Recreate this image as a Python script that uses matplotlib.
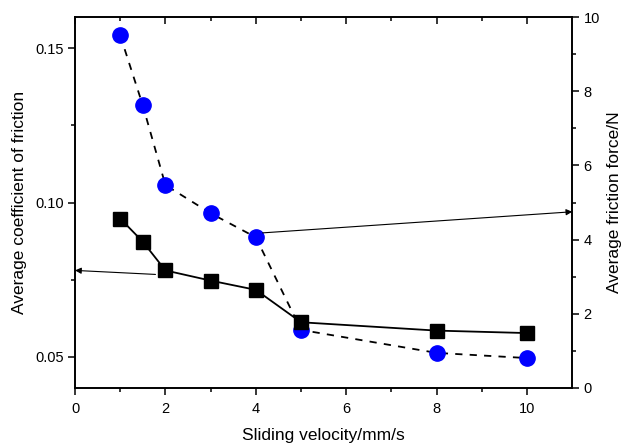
import numpy as np
import matplotlib.pyplot as plt

plt.rcParams['font.family'] = ['Liberation Sans', 'DejaVu Sans']

# data
velocity = [1, 1.5, 2, 3, 4, 5, 8, 10]
coef = [0.0948, 0.0873, 0.0780, 0.0747, 0.0717, 0.0612, 0.0585, 0.0577]
force = [9.51, 7.62, 5.47, 4.71, 4.06, 1.56, 0.94, 0.80]

fig = plt.figure(figsize=(6.23, 4.44), dpi=100)
ax = fig.add_axes([0.1204, 0.1268, 0.7982, 0.8342])
ax2 = ax.twinx()

ax2.plot(velocity, force, ls=(0, (4, 4)), color='black', lw=1.3,
         marker='o', ms=11, mfc='#0000ff', mec='#0000ff', zorder=2)
ax.plot(velocity, coef, ls='-', color='black', lw=1.3,
        marker='s', ms=9.5, mfc='black', mec='black', zorder=3)
ax.set_zorder(ax2.get_zorder() + 1)
ax.patch.set_visible(False)

ax.set_xlim(0, 11)
ax.set_ylim(0.04, 0.16)
ax2.set_ylim(0, 10)
ax.set_xticks([0, 2, 4, 6, 8, 10])
ax.set_xticks([1, 3, 5, 7, 9], minor=True)
ax.set_yticks([0.05, 0.10, 0.15])
ax.set_yticklabels(['0.05', '0.10', '0.15'])
ax.set_yticks([0.075, 0.125], minor=True)
ax2.set_yticks([0, 2, 4, 6, 8, 10])
ax2.set_yticks([1, 3, 5, 7, 9], minor=True)

for a in (ax, ax2):
    for s in a.spines.values():
        s.set_linewidth(1.2)
ax.tick_params(which='major', length=5, width=1.1, labelsize=10.5, pad=3)
ax.tick_params(which='minor', length=3, width=1.1)
ax.tick_params(axis='x', which='major', pad=5)
ax.tick_params(axis='x', which='both', top=True, direction='out')
ax2.tick_params(which='major', length=5, width=1.1, labelsize=10.5, pad=3)
ax2.tick_params(which='minor', length=3, width=1.1)

# top ticks point inward
for t in ax.xaxis.get_major_ticks() + ax.xaxis.get_minor_ticks():
    t.tick2line.set_marker(3)

ax.set_xlabel('Sliding velocity/mm/s', fontsize=12.5, labelpad=9)
ax.set_ylabel('Average coefficient of friction', fontsize=12.5, labelpad=6)
ax2.set_ylabel('Average friction force/N', fontsize=12.5, labelpad=5)

ax.annotate('', xy=(0, 0.0780), xytext=(1.78, 0.0767),
            arrowprops=dict(arrowstyle='-|>', color='black', lw=0.8,
                            mutation_scale=9, shrinkA=0, shrinkB=0))
ax2.annotate('', xy=(11, 4.75), xytext=(4.15, 4.18),
             arrowprops=dict(arrowstyle='-|>', color='black', lw=0.8,
                             mutation_scale=9, shrinkA=0, shrinkB=0))

plt.savefig('out.png', dpi=100)
